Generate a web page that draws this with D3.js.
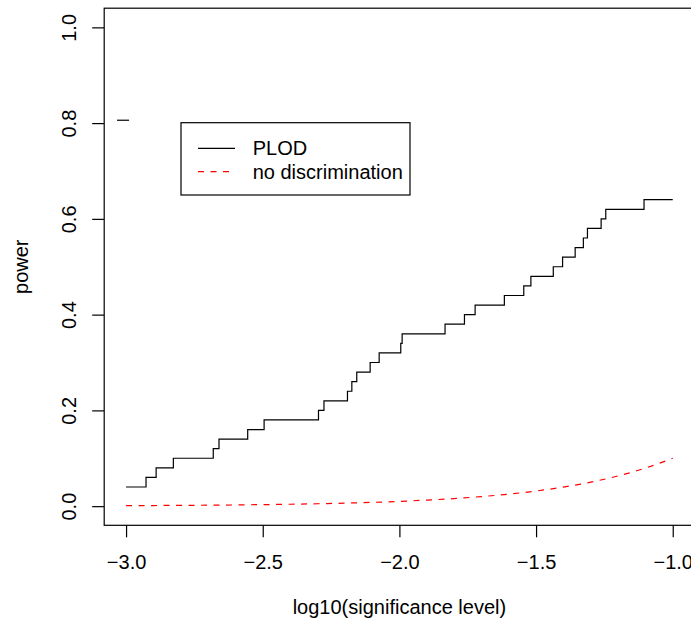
<!DOCTYPE html>
<html>
<head>
<meta charset="utf-8">
<script src="https://cdn.jsdelivr.net/npm/d3@7"></script>
<style>
  html, body { margin: 0; padding: 0; background: #fff; }
  svg { display: block; font-family: "Liberation Sans", Arial, Helvetica, sans-serif; }
</style>
</head>
<body>
<svg id="chart" width="691" height="622"></svg>
<script>
// ---- data ----
const stepX = [-3.0, -2.927, -2.890, -2.827, -2.681, -2.660, -2.555, -2.495, -2.296, -2.276,
               -2.190, -2.174, -2.156, -2.107, -2.074, -1.995, -1.990, -1.833, -1.762, -1.723,
               -1.616, -1.545, -1.519, -1.437, -1.403, -1.357, -1.327, -1.312, -1.262, -1.245,
               -1.105, -1.0];
const stepPower = [0.04, 0.06, 0.08, 0.10, 0.12, 0.14, 0.16, 0.18, 0.20, 0.22,
                   0.24, 0.26, 0.28, 0.30, 0.32, 0.34, 0.36, 0.38, 0.40, 0.42,
                   0.44, 0.46, 0.48, 0.50, 0.52, 0.54, 0.56, 0.58, 0.60, 0.62,
                   0.64, 0.64];
const nullX = [-3.0, -2.9, -2.8, -2.7, -2.6, -2.5, -2.4, -2.3, -2.2, -2.1, -2.0,
               -1.9, -1.8, -1.7, -1.6, -1.5, -1.4, -1.3, -1.2, -1.1, -1.0];
const nullPower = [0.001, 0.0013, 0.0016, 0.002, 0.0025, 0.0032, 0.004, 0.005, 0.0063, 0.0079, 0.01,
                   0.0126, 0.0158, 0.02, 0.0251, 0.0316, 0.0398, 0.0501, 0.0631, 0.0794, 0.1];
const markX = [-3.033, -2.989];
const markPower = [0.806, 0.806];
const xTicks = [-3.0, -2.5, -2.0, -1.5, -1.0];
const yTicks = [0.0, 0.2, 0.4, 0.6, 0.8, 1.0];
const legendLabels = ["PLOD", "no discrimination"];
const xTitle = "log10(significance level)";
const yTitle = "power";

(function () {
// ---- layout ----
const svg = d3.select("#chart");
const FS = 20;
const pL = 104.2, pR = 694.6, pT = 8.2, pB = 525.3;
const x = d3.scaleLinear().domain([-3.08, -0.92]).range([pL, pR]);
const y = d3.scaleLinear().domain([-0.04, 1.04]).range([pB, pT]);
const fmt = d3.format(".1f");

// box
svg.append("rect")
  .attr("x", pL).attr("y", pT)
  .attr("width", pR - pL).attr("height", pB - pT)
  .attr("fill", "none").attr("stroke", "#000").attr("stroke-width", 1.2);

// x axis
const gx = svg.append("g").attr("transform", `translate(0,${pB})`)
  .call(d3.axisBottom(x).tickValues(xTicks).tickFormat(fmt).tickSize(12).tickPadding(17.5));
gx.select(".domain").remove();
gx.selectAll(".tick line").attr("stroke", "#000").attr("stroke-width", 1.2);
gx.selectAll(".tick text").attr("font-size", FS).attr("fill", "#000")
  .attr("font-family", "Liberation Sans, Arial, sans-serif");

// y axis
const gy = svg.append("g").attr("transform", `translate(${pL},0)`)
  .call(d3.axisLeft(y).tickValues(yTicks).tickFormat(fmt).tickSize(12));
gy.select(".domain").remove();
gy.selectAll(".tick line").attr("stroke", "#000").attr("stroke-width", 1.2);
gy.selectAll(".tick text")
  .attr("x", null).attr("dy", null).attr("y", 0)
  .attr("transform", "translate(-28.3,0) rotate(-90)")
  .attr("text-anchor", "middle")
  .attr("font-size", FS).attr("fill", "#000")
  .attr("font-family", "Liberation Sans, Arial, sans-serif");

// titles
svg.append("text").attr("x", (pL + pR) / 2).attr("y", 614)
  .attr("text-anchor", "middle").attr("font-size", FS).text(xTitle);
svg.append("text").attr("transform", `translate(27.7,${(pT + pB) / 2}) rotate(-90)`)
  .attr("text-anchor", "middle").attr("font-size", FS).text(yTitle);

// series
const stepData = stepX.map((d, i) => [d, stepPower[i]]);
const nullData = nullX.map((d, i) => [d, nullPower[i]]);
const markData = markX.map((d, i) => [d, markPower[i]]);

svg.append("path").datum(stepData)
  .attr("d", d3.line().x(d => x(d[0])).y(d => y(d[1])).curve(d3.curveStepAfter))
  .attr("fill", "none").attr("stroke", "#000").attr("stroke-width", 1.2);

svg.append("path").datum(markData)
  .attr("d", d3.line().x(d => x(d[0])).y(d => y(d[1])))
  .attr("fill", "none").attr("stroke", "#000").attr("stroke-width", 1.2);

svg.append("path").datum(nullData)
  .attr("d", d3.line().x(d => x(d[0])).y(d => y(d[1])).curve(d3.curveMonotoneX))
  .attr("fill", "none").attr("stroke", "#ff0000").attr("stroke-width", 1.2)
  .attr("stroke-dasharray", "6,6.5");

// legend
const lg = svg.append("g");
lg.append("rect").attr("x", 181).attr("y", 122.7).attr("width", 229).attr("height", 72.3)
  .attr("fill", "#fff").attr("stroke", "#000").attr("stroke-width", 1.2);
const legendRows = [
  { label: legendLabels[0], color: "#000", dash: null, yy: 148.3 },
  { label: legendLabels[1], color: "#ff0000", dash: "6,6.5", yy: 171.7 }
];
legendRows.forEach(r => {
  lg.append("line").attr("x1", 198).attr("x2", 235).attr("y1", r.yy).attr("y2", r.yy)
    .attr("stroke", r.color).attr("stroke-width", 1.2)
    .attr("stroke-dasharray", r.dash);
  lg.append("text").attr("x", 252.7).attr("y", r.yy + 7).attr("font-size", FS).text(r.label);
});
})();
</script>
</body>
</html>
